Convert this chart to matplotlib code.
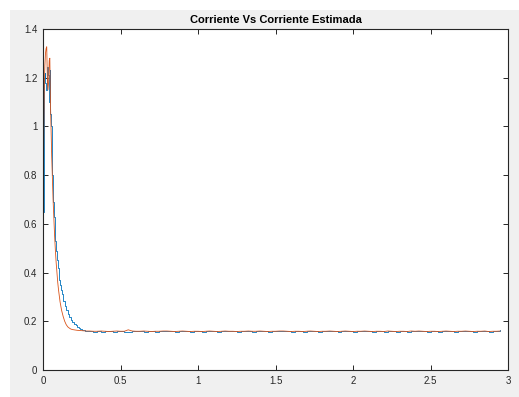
import matplotlib.pyplot as plt
import matplotlib.patches as mpatches
import numpy as np

# measured current: transient part (explicit times)
blue_t = [0.000, 0.002, 0.004, 0.008, 0.012, 0.016, 0.020, 0.024, 0.028, 0.032,
          0.036, 0.040, 0.044, 0.048, 0.052, 0.056, 0.060, 0.065, 0.070, 0.075,
          0.080, 0.085, 0.090, 0.095, 0.100, 0.105, 0.110, 0.115, 0.120, 0.130,
          0.140, 0.150, 0.160, 0.170, 0.180, 0.190, 0.200, 0.210, 0.220, 0.230,
          0.240, 0.250, 0.260, 0.270, 0.280, 0.290]
blue_i = [0.000, 0.650, 0.950, 1.200, 1.220, 1.180, 1.150, 1.230, 1.245, 1.210,
          1.200, 1.100, 1.230, 1.050, 1.000, 0.880, 0.800, 0.690, 0.630, 0.580,
          0.530, 0.490, 0.450, 0.420, 0.390, 0.370, 0.350, 0.330, 0.310, 0.285,
          0.262, 0.245, 0.230, 0.217, 0.205, 0.196, 0.189, 0.183, 0.178, 0.173,
          0.169, 0.166, 0.163, 0.161, 0.160, 0.159]

# estimated current: transient part
est_t = [0.000, 0.000, 0.004, 0.008, 0.012, 0.016, 0.020, 0.024, 0.028, 0.032,
         0.036, 0.040, 0.044, 0.048, 0.052, 0.056, 0.060, 0.065, 0.070, 0.075,
         0.080, 0.085, 0.090, 0.095, 0.100, 0.110, 0.120, 0.130, 0.140, 0.150,
         0.160, 0.170, 0.180, 0.190, 0.200, 0.220, 0.240, 0.260, 0.280]
est_i = [0.000, 0.550, 0.900, 1.150, 1.250, 1.300, 1.320, 1.327, 1.200, 1.150,
         1.180, 1.270, 1.280, 1.100, 0.980, 0.880, 0.800, 0.700, 0.620, 0.550,
         0.490, 0.440, 0.400, 0.360, 0.330, 0.280, 0.245, 0.220, 0.200, 0.186,
         0.177, 0.172, 0.168, 0.166, 0.165, 0.163, 0.162, 0.161, 0.160]

# steady state, sampled every 0.025 s from 0.30 s to 2.95 s
t0_steady = 0.30
dt_steady = 0.025
blue_steady = [
    0.159, 0.158, 0.159, 0.157, 0.160, 0.159, 0.158, 0.160, 0.159, 0.157,
    0.158, 0.160, 0.161, 0.159, 0.158, 0.160, 0.159, 0.157, 0.159, 0.160,
    0.162, 0.159, 0.158, 0.159, 0.161, 0.159, 0.157, 0.159, 0.160, 0.158,
    0.159, 0.160, 0.159, 0.158, 0.159, 0.161, 0.160, 0.159, 0.157, 0.160,
    0.159, 0.160, 0.158, 0.160, 0.161, 0.159, 0.158, 0.160, 0.159, 0.160,
    0.162, 0.159, 0.158, 0.159, 0.160, 0.157, 0.159, 0.160, 0.159, 0.158,
    0.160, 0.159, 0.161, 0.159, 0.158, 0.159, 0.160, 0.159, 0.157, 0.160,
    0.159, 0.161, 0.160, 0.158, 0.159, 0.160, 0.158, 0.160, 0.159, 0.157,
    0.159, 0.160, 0.158, 0.160, 0.159, 0.161, 0.159, 0.158, 0.160, 0.159,
    0.157, 0.159, 0.160, 0.159, 0.158, 0.159, 0.160, 0.161, 0.159, 0.158,
    0.160, 0.159, 0.160, 0.158, 0.160, 0.159, 0.163,
]
est_steady = [
    0.160, 0.159, 0.159, 0.160, 0.159, 0.158, 0.159, 0.160, 0.159, 0.159,
    0.165, 0.160, 0.159, 0.159, 0.160, 0.159, 0.158, 0.159, 0.159, 0.160,
    0.160, 0.159, 0.158, 0.159, 0.160, 0.159, 0.158, 0.159, 0.159, 0.158,
    0.159, 0.160, 0.159, 0.158, 0.159, 0.160, 0.159, 0.159, 0.158, 0.159,
    0.159, 0.160, 0.159, 0.159, 0.160, 0.159, 0.158, 0.159, 0.159, 0.160,
    0.160, 0.159, 0.158, 0.159, 0.159, 0.158, 0.159, 0.160, 0.159, 0.158,
    0.159, 0.159, 0.160, 0.159, 0.158, 0.159, 0.160, 0.159, 0.158, 0.159,
    0.159, 0.160, 0.159, 0.158, 0.159, 0.159, 0.158, 0.160, 0.159, 0.158,
    0.159, 0.159, 0.158, 0.160, 0.159, 0.160, 0.159, 0.158, 0.159, 0.159,
    0.158, 0.159, 0.160, 0.159, 0.158, 0.159, 0.159, 0.160, 0.159, 0.158,
    0.159, 0.159, 0.160, 0.158, 0.159, 0.159, 0.160,
]

x_ticks = [0, 0.5, 1, 1.5, 2, 2.5, 3]
x_ticklabels = ["0", "0.5", "1", "1.5", "2", "2.5", "3"]
y_ticks = [0, 0.2, 0.4, 0.6, 0.8, 1.0, 1.2, 1.4]
y_ticklabels = ["0", "0.2", "0.4", "0.6", "0.8", "1", "1.2", "1.4"]

steady_t = t0_steady + dt_steady * np.arange(len(blue_steady))
t_meas = np.concatenate([blue_t, steady_t])
i_meas = np.concatenate([blue_i, blue_steady])
t_est = np.concatenate([est_t, steady_t])
i_est = np.concatenate([est_i, est_steady])

W, H = 519, 397
fig = plt.figure(figsize=(W / 100, H / 100), dpi=100, facecolor="white")
fig.patches.append(
    mpatches.Rectangle((10 / W, 0), 1, 1 - 10 / H, transform=fig.transFigure,
                       facecolor="#f0f0f0", edgecolor="none", zorder=-10)
)

ax = fig.add_axes([43 / W, 27 / H, 465 / W, 341 / H])
ax.set_facecolor("white")

ax.plot(t_meas, i_meas, color="#0072bd", lw=0.6, drawstyle="steps-post")
ax.plot(t_est, i_est, color="#d95319", lw=0.6)

ax.set_xlim(0, 3)
ax.set_ylim(0, 1.4)
ax.set_xticks(x_ticks)
ax.set_xticklabels(x_ticklabels)
ax.set_yticks(y_ticks)
ax.set_yticklabels(y_ticklabels)

for s in ax.spines.values():
    s.set_color("#262626")
    s.set_linewidth(0.8)
ax.tick_params(direction="in", length=3.5, width=0.7, colors="#262626",
               labelsize=7, top=True, right=True, pad=4)
for lab in ax.get_xticklabels() + ax.get_yticklabels():
    lab.set_family("Liberation Sans")

ax.set_title("Corriente Vs Corriente Estimada", fontsize=8, fontweight="bold",
             family="Liberation Sans", pad=4)

fig.savefig("out.png", dpi=100, facecolor=fig.get_facecolor())
